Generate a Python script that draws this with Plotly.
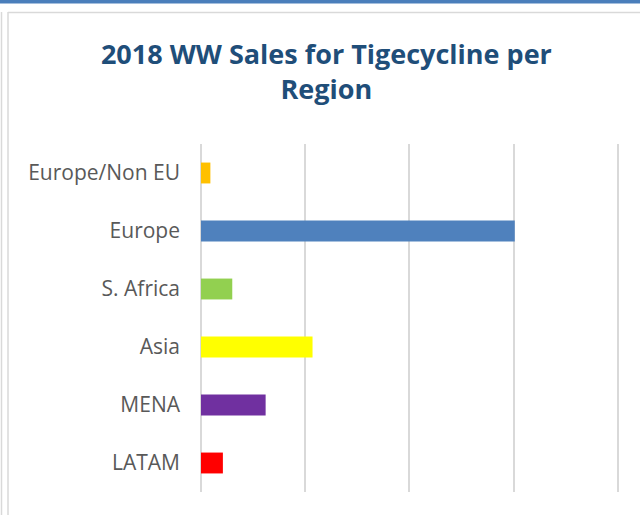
import plotly.graph_objects as go

categories = ["LATAM", "MENA", "Asia", "S. Africa", "Europe", "Europe/Non EU"]
sales = [21, 62, 107, 30, 301, 9]
bar_colors = ["#FF0000", "#7030A0", "#FFFF00", "#92D050", "#4F81BD", "#FFC000"]
title_text = "2018 WW Sales for Tigecycline per<br>Region"

W, H = 640, 515
L, R, T, B = 201, 619, 144, 492

def px_x(p):
    return (p - L) / (R - L)

def px_y(p):
    return (B - p) / (B - T)

fig = go.Figure(go.Bar(
    x=sales, y=categories, orientation="h",
    marker=dict(color=bar_colors, line=dict(width=0)),
    width=0.36,
))

shapes = [
    dict(type="rect", xref="paper", yref="paper", x0=px_x(0), x1=px_x(640), y0=px_y(0), y1=px_y(3.5),
         fillcolor="#4A7EBB", line=dict(width=0), layer="above"),
    dict(type="line", xref="paper", yref="paper", x0=px_x(1.5), x1=px_x(1.5), y0=px_y(12), y1=px_y(515),
         line=dict(color="#D9D9D9", width=1.5)),
    dict(type="line", xref="paper", yref="paper", x0=px_x(8), x1=px_x(8), y0=px_y(12), y1=px_y(515),
         line=dict(color="#D9D9D9", width=1.5)),
    dict(type="line", xref="paper", yref="paper", x0=px_x(8), x1=px_x(640), y0=px_y(12.5), y1=px_y(12.5),
         line=dict(color="#D9D9D9", width=1.5)),
]

fig.update_layout(
    width=W, height=H,
    margin=dict(l=L, r=W - R, t=T, b=H - B, autoexpand=False),
    paper_bgcolor="white", plot_bgcolor="white",
    showlegend=False,
    shapes=shapes,
    title=dict(text=title_text, x=0.51, xanchor="center", y=1 - 64 / H, yanchor="top",
               font=dict(family="Open Sans", size=27, color="#1F4E79", weight="bold")),
    xaxis=dict(range=[0, 401], tickvals=[0, 100, 200, 300, 400], showticklabels=False, showgrid=True,
               gridcolor="#D9D9D9", gridwidth=2, zeroline=True, zerolinecolor="#D9D9D9",
               zerolinewidth=2, showline=False, fixedrange=True),
    yaxis=dict(tickfont=dict(family="Open Sans", size=21, color="#595959"),
               ticklabelstandoff=20, showgrid=False, showline=False, ticks="", fixedrange=True),
)

fig.write_html("out.html", config={"displayModeBar": False},
               post_script="document.body.style.margin='0';")
